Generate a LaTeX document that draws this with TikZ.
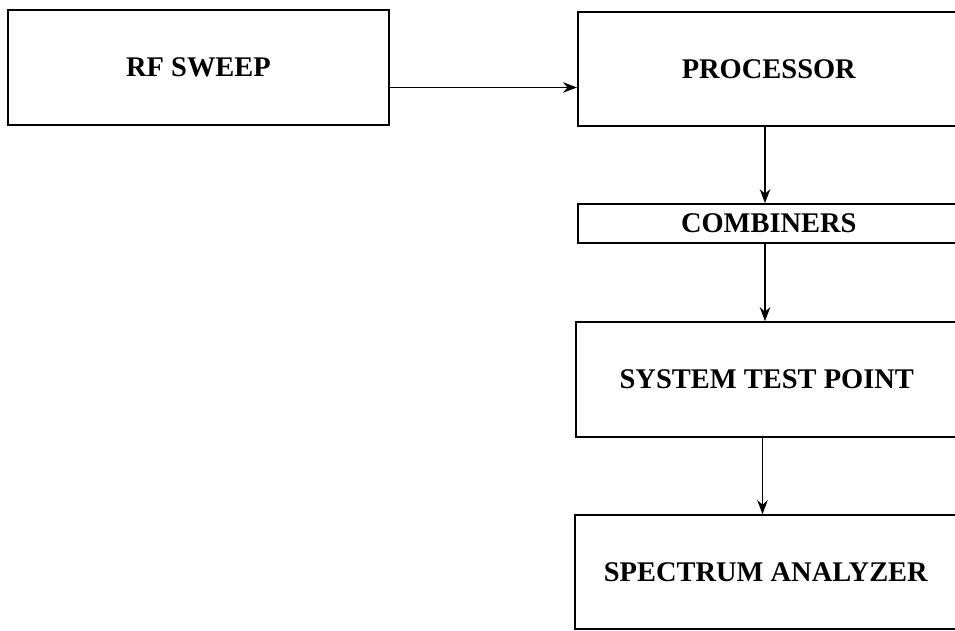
\documentclass[tikz,border=0pt]{standalone}
\usepackage{fontspec}
\setmainfont{Liberation Serif}
\usetikzlibrary{arrows.meta}

\tikzset{
  blk/.style={draw, line width=0.9pt, inner sep=0pt, font=\bfseries\fontsize{16.2}{19}\selectfont},
  arr/.style={-{Stealth[length=8pt,width=6pt]}, line width=0.8pt}
}

\begin{document}
\begin{tikzpicture}
        \useasboundingbox (0,0) rectangle (19.1,12.62);

        % === Sorgente ===
        \node[blk, minimum width=7.62cm, minimum height=2.3cm] (rf) at (3.97,11.27) {RF SWEEP};

        % === Catena a destra ===
        \node[blk, anchor=west, minimum width=7.64cm, minimum height=2.28cm] (proc) at (11.54,11.24) {PROCESSOR};
        \node[blk, anchor=west, minimum width=7.64cm, minimum height=0.78cm] (comb) at (11.54,8.15) {COMBINERS};
        \node[blk, anchor=west, minimum width=7.64cm, minimum height=2.3cm] (stp) at (11.5,5.03) {SYSTEM TEST POINT};
        \node[blk, anchor=west, minimum width=7.64cm, minimum height=2.28cm] (spec) at (11.48,1.18) {SPECTRUM ANALYZER};

        % Frecce
        \coordinate (spine) at (15.3,0);
        \draw[arr] ([yshift=-0.4cm]rf.east) -- ([yshift=-0.4cm]rf.east -| proc.west);
        \draw[arr] (proc.south -| spine) -- (comb.north -| spine);
        \draw[arr] (comb.south -| spine) -- (stp.north -| spine);
        \draw[arr] ([xshift=-0.05cm]stp.south -| spine) -- ([xshift=-0.05cm]spec.north -| spine);

\end{tikzpicture}
\end{document}
